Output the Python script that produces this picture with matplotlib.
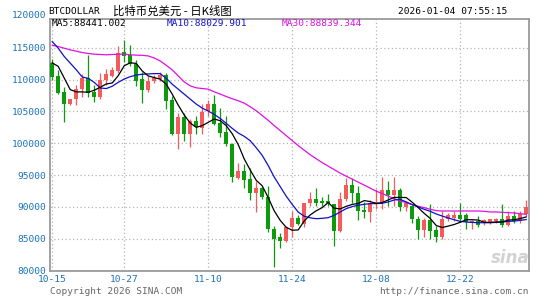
import matplotlib
matplotlib.use('Agg')
import matplotlib.pyplot as plt
import numpy as np

# daily candles, 2025-10-15 .. 2026-01-03 (index 0..79)
opens = [112660, 110500, 108000, 106200, 106900, 108450, 110300, 108000, 107300, 109900,
         110600, 111400, 114300, 113900, 112500, 110100, 108400, 109800, 110100, 110700,
         106800, 101500, 104080, 101480, 103560, 102420, 105020, 106160, 103200, 101800,
         99900, 94530, 95580, 94370, 92160, 92900, 91580, 86580, 85320, 84640,
         86900, 88320, 87270, 90580, 91320, 90900, 90950, 90430, 86220, 91210,
         93420, 92160, 89530, 89210, 90430, 90800, 92690, 91840, 92690, 90000,
         90100, 88160, 86370, 87950, 86370, 85320, 88050, 88320, 88690, 88690,
         87480, 87850, 87430, 87640, 87800, 88160, 87110, 88580, 87800, 88850]
closes = [110420, 107900, 106200, 106900, 108450, 110300, 107900, 107300, 109900, 110900,
          111500, 114200, 113700, 112500, 109700, 108400, 109800, 110300, 110700, 106700,
          101500, 104100, 101480, 103560, 102520, 104910, 106160, 103040, 101640, 99820,
          94650, 95580, 94260, 92260, 92900, 91580, 86580, 85000, 84640, 86900,
          88320, 87270, 90690, 91320, 90690, 90690, 90580, 86220, 91320, 93420,
          92160, 89370, 89210, 90690, 90800, 92690, 91840, 92690, 90000, 90580,
          88160, 86370, 87950, 86220, 85320, 88160, 88690, 88690, 88160, 87640,
          87850, 87160, 87950, 88050, 88160, 87110, 88580, 87800, 88850, 90000]
highs = [113300, 111500, 108800, 107000, 109100, 110900, 113800, 109100, 111000, 111700,
         112000, 115200, 116200, 115400, 113000, 111250, 110500, 110700, 111150, 111000,
         107400, 104760, 104760, 103800, 104240, 106160, 106840, 107620, 105540, 104240,
         100000, 96900, 96740, 96050, 94100, 93200, 93300, 87000, 85950, 87000,
         89300, 88700, 90700, 92370, 93050, 91500, 92000, 90430, 92370, 94470,
         94470, 93320, 90800, 91100, 92800, 94630, 94100, 94630, 92900, 90950,
         90370, 88580, 88320, 90430, 87000, 89370, 89110, 89370, 90580, 89000,
         88000, 88580, 88050, 88160, 88300, 90430, 89370, 89370, 89370, 91100]
lows = [110000, 107800, 103300, 106000, 106000, 107300, 107200, 106500, 107000, 109100,
        110400, 111000, 112700, 112200, 109000, 106300, 108100, 109400, 109700, 105300,
        101300, 99040, 100340, 99400, 101480, 101480, 104240, 102900, 100960, 99560,
        93950, 94400, 93050, 91100, 89200, 91200, 86050, 80530, 83600, 84500,
        85300, 87100, 86900, 90160, 90160, 90200, 90160, 83850, 86100, 90950,
        90690, 87950, 88320, 87640, 89630, 89630, 90160, 90160, 89320, 89320,
        87480, 85000, 85320, 85000, 84480, 85000, 87800, 87800, 87640, 86480,
        86480, 86800, 87100, 87320, 87500, 86900, 87000, 87530, 87530, 88600]

ma5 = [112630, 112060, 110240, 108420, 108060, 108060, 108000, 108320, 108780, 109300,
       109460, 110600, 112160, 112630, 112530, 111350, 110570, 110310, 110050, 109270,
       107710, 105990, 104430, 103180, 102500, 102760, 103280, 103800, 103540, 102760,
       101500, 99800, 97550, 95800, 94200, 93320, 91480, 89400, 87900, 86800,
       86350, 86400, 87800, 88750, 89400, 89900, 90700, 89800, 89700, 90100,
       90400, 90550, 91000, 90850, 90550, 90700, 91100, 91500, 91500, 91480,
       90750, 89900, 89000, 88200, 87100, 86780, 87000, 87250, 87600, 88000,
       88000, 87950, 87600, 87580, 87650, 87650, 87950, 88000, 88180, 88441]
ma10 = [115960, 114920, 113620, 112580, 111540, 110400, 110190, 109560, 108680, 108580,
        108940, 109560, 110080, 110450, 110700, 110830, 110880, 110930, 110930, 110200,
        109270, 108490, 107710, 106930, 106150, 105520, 105050, 104530, 103900, 103120,
        102340, 101610, 101090, 100400, 99300, 98100, 96500, 94700, 93200, 91700,
        90400, 89200, 88550, 88300, 88160, 88220, 88320, 88690, 89210, 89740,
        90060, 90270, 90420, 90530, 90530, 90580, 90790, 91100, 91200, 90790,
        90370, 90000, 89640, 89320, 88900, 88580, 88270, 88000, 87740, 87640,
        87580, 87530, 87530, 87530, 87580, 87640, 87740, 87790, 87900, 88030]
ma30 = [115390, 115180, 114920, 114660, 114450, 114240, 114090, 113980, 113930, 113880,
        113930, 113980, 113980, 113880, 113830, 113800, 113700, 113380, 112920, 112240,
        111510, 110570, 109630, 109010, 108700, 108590, 108490, 108070, 107710, 107340,
        106980, 106670, 106300, 105730, 105100, 104350, 103600, 102770, 101990, 101200,
        100420, 99640, 98910, 98210, 97580, 96960, 96410, 95860, 95310, 94840,
        94370, 93900, 93430, 92960, 92490, 92100, 91700, 91310, 90950, 90690,
        90370, 90110, 89900, 89640, 89430, 89370, 89370, 89370, 89370, 89370,
        89370, 89370, 89320, 89220, 89220, 89160, 89110, 89060, 88950, 88840]

date_ticks = [0, 12, 26, 40, 54, 68]
date_labels = ['10-15', '10-27', '11-10', '11-24', '12-08', '12-22']
price_ticks = [80000, 85000, 90000, 95000, 100000, 105000, 110000, 115000]

UP = '#f45b5b'
DOWN = '#0d9a0d'
TICK = '#1a72b8'
GRID = '#b4b4b4'
MONO = 'DejaVu Sans Mono'

W, H = 545, 300
fig = plt.figure(figsize=(W / 100, H / 100), dpi=100)
fig.patch.set_facecolor('white')
ax = fig.add_axes([50 / W, 1 - 270.7 / H, 479 / W, (270.7 - 19) / H])

x = np.arange(len(opens))
o = np.array(opens)
c = np.array(closes)
up = c >= o
cols = np.where(up, UP, DOWN)

ax.vlines(x, lows, highs, colors=cols, linewidth=0.9, zorder=3)
ax.bar(x, np.maximum(np.abs(c - o), 90), bottom=np.minimum(o, c), width=0.75,
       color=cols, linewidth=0, zorder=4)

ax.plot(x, ma30, color='#e010e0', lw=0.9, zorder=5)
ax.plot(x, ma10, color='#1010cc', lw=0.9, zorder=5)
ax.plot(x, ma5, color='black', lw=0.9, zorder=6)

ax.set_xlim(-0.37, 79.47)
ax.set_ylim(80000, 119500)
ax.set_yticks(price_ticks)
ax.set_yticklabels([str(v) for v in price_ticks])
ax.set_xticks(date_ticks)
ax.set_xticklabels(date_labels)
ax.tick_params(length=0, labelsize=6.8, colors=TICK, pad=3)
for lab in ax.get_xticklabels() + ax.get_yticklabels():
    lab.set_family(MONO)
ax.grid(True, color=GRID, linestyle=(0, (1, 2)), linewidth=0.9)
ax.set_axisbelow(True)
for s in ax.spines.values():
    s.set_color('#9a9a9a')
    s.set_linewidth(1.3)

# top price label sits above the frame
ax.annotate('120000', xy=(0, 120000), xycoords=('axes fraction', 'data'),
            xytext=(-3, 0), textcoords='offset points', ha='right', va='center',
            fontsize=6.8, color=TICK, family=MONO, annotation_clip=False)

# header
fig.text(48 / W, 1 - 11 / H, 'BTCDOLLAR', family=MONO, fontsize=6.8, va='center')
fig.text(113 / W, 1 - 11.5 / H, '比特币兑美元 - 日K线图',
         family=['Noto Sans CJK SC', 'DejaVu Sans'], fontsize=8.2, va='center')
fig.text(507 / W, 1 - 11 / H, '2026-01-04 07:55:15', family=MONO, fontsize=6.8,
         va='center', ha='right')

# MA legend inside the frame
fig.text(52 / W, 1 - 24 / H, 'MA5:88441.002', family=MONO, fontsize=6.8,
         va='center', color='black')
fig.text(167 / W, 1 - 24 / H, 'MA10:88029.901', family=MONO, fontsize=6.8,
         va='center', color='#1010cc')
fig.text(282 / W, 1 - 24 / H, 'MA30:88839.344', family=MONO, fontsize=6.8,
         va='center', color='#e010e0')

# footer
fig.text(50 / W, 1 - 292 / H, 'Copyright 2026 SINA.COM', family=MONO, fontsize=6.8,
         va='center', color='#666666')
fig.text(529 / W, 1 - 292 / H, 'http://finance.sina.com.cn', family=MONO, fontsize=6.8,
         va='center', ha='right', color='#666666')
# faint sina watermark
fig.text(510 / W, 1 - 258 / H, 'sina', family='DejaVu Sans', fontsize=12,
         fontweight='bold', fontstyle='italic', va='center', ha='center',
         color='#d2d2d2', zorder=1)

fig.savefig('out.png', dpi=100)
